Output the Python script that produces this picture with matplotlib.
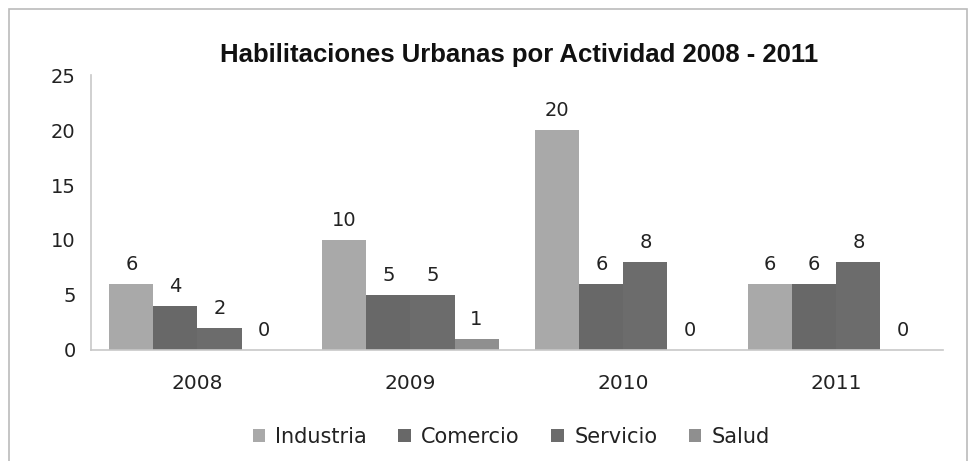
import matplotlib
matplotlib.use("Agg")
import matplotlib.pyplot as plt
from matplotlib.patches import Rectangle
import numpy as np

years = ["2008", "2009", "2010", "2011"]
series = ["Industria", "Comercio", "Servicio", "Salud"]
industria = [6, 10, 20, 6]
comercio = [4, 5, 6, 6]
servicio = [2, 5, 8, 8]
salud = [0, 1, 0, 0]
values = [industria, comercio, servicio, salud]
colors = ["#a9a9a9", "#686868", "#6c6c6c", "#8f8f8f"]
yticks = [0, 5, 10, 15, 20, 25]

fig = plt.figure(figsize=(9.68, 4.61), dpi=100)
ax = fig.add_axes([0.094, 0.241, 0.880, 0.596])

x = np.arange(len(years))
bw = 0.207
for i, (name, vals, c) in enumerate(zip(series, values, colors)):
    pos = x + (i - 1.5) * bw
    ax.bar(pos, vals, width=bw, color=c, label=name, edgecolor='none')
    for p, v in zip(pos, vals):
        ax.annotate(str(v), (p, v), xytext=(0, 7), textcoords='offset points',
                    ha='center', va='bottom', fontsize=14, family='DejaVu Sans', color='#222222')

ax.set_xlim(-0.5, 3.5)
ax.set_ylim(0, 25)
ax.set_yticks(yticks)
ax.set_yticklabels([str(t) for t in yticks], family='DejaVu Sans', fontsize=14, color='#222222')
ax.set_xticks(x)
ax.set_xticklabels(years, family='DejaVu Sans', fontsize=14.5, color='#222222')
ax.tick_params(axis='y', length=0, pad=11)
ax.tick_params(axis='x', length=0, pad=17)
for s in ['top', 'right']:
    ax.spines[s].set_visible(False)
ax.spines['left'].set_color('#c8c8c8')
ax.spines['bottom'].set_color('#c8c8c8')
ax.spines['left'].set_linewidth(1.2)
ax.spines['bottom'].set_linewidth(1.2)

fig.text(0.536, 0.88, "Habilitaciones Urbanas por Actividad 2008 - 2011",
         ha='center', va='center', fontsize=18.5, fontweight='bold', family='Liberation Sans', color='#111111')

leg = fig.legend(loc='center', bbox_to_anchor=(0.528, 0.053), ncol=4, frameon=False,
                 prop={'family': 'DejaVu Sans', 'size': 15}, handlelength=0.6, handleheight=0.6,
                 handletextpad=0.5, columnspacing=1.5)
for t in leg.get_texts():
    t.set_color('#222222')

fig.patches.append(Rectangle((0.009, -0.05), 0.99, 1.03, transform=fig.transFigure,
                             fill=False, edgecolor='#bbbbbb', linewidth=1.2))

fig.savefig("out.png", dpi=100)
